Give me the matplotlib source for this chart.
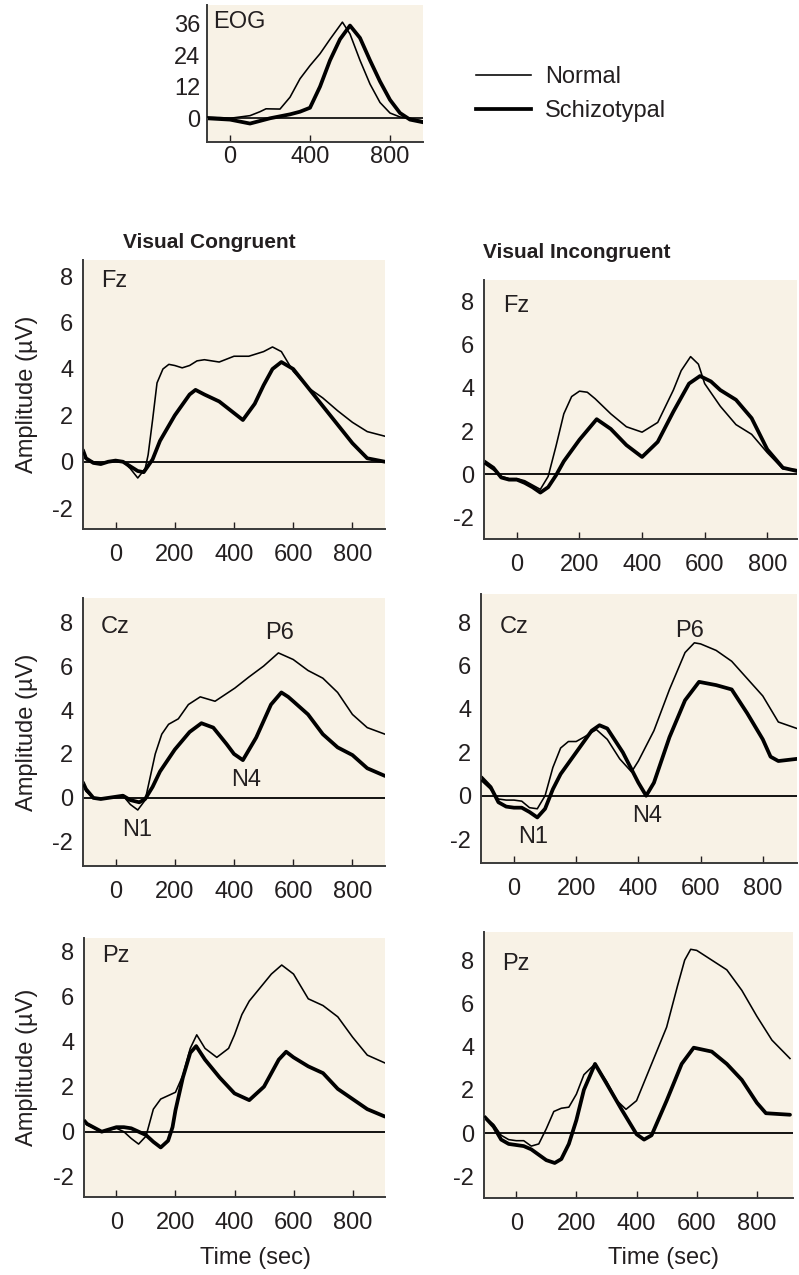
import matplotlib.pyplot as plt
from matplotlib.lines import Line2D

plt.rcParams['font.family'] = ['Liberation Sans', 'DejaVu Sans']
plt.rcParams['axes.unicode_minus'] = False

W, H = 799, 1275
BG = '#f8f2e6'
INK = '#231f20'
FS = 17

# ---- EOG (inset) ----
eog_t_norm = [-115, -50, 0, 50, 100, 150, 180, 250, 300, 350, 400, 450, 500, 562, 600, 650, 700, 750, 800, 850, 900, 965]
eog_v_norm = [0.5, 0.3, 0.0, 0.5, 1.0, 2.5, 3.6, 3.5, 8.0, 15.0, 20.0, 24.5, 30.0, 36.5, 32.0, 22.0, 13.0, 6.0, 2.0, 0.5, 0.0, -1.0]
eog_t_sch = [-115, 0, 100, 200, 300, 350, 400, 450, 500, 550, 600, 650, 700, 750, 800, 850, 900, 965]
eog_v_sch = [0.0, -0.5, -2.0, 0.0, 1.5, 2.5, 4.0, 12.0, 22.0, 30.0, 35.2, 30.5, 22.0, 14.0, 7.0, 2.0, -0.5, -1.5]

# ---- Fz, congruent ----
fz_con_t_norm = [-110, -100, -75, -50, -25, 0, 25, 50, 75, 100, 110, 125, 140, 160, 180, 200, 225, 250, 275, 300,
                 350, 400, 450, 500, 530, 560, 600, 650, 700, 750, 800, 850, 910]
fz_con_v_norm = [0.4, 0.1, 0.0, -0.05, 0.0, 0.05, 0.0, -0.3, -0.7, -0.3, 0.3, 1.8, 3.4, 4.0, 4.2, 4.15, 4.05, 4.15, 4.35, 4.4,
                 4.3, 4.55, 4.55, 4.75, 4.95, 4.75, 3.9, 3.2, 2.75, 2.2, 1.7, 1.3, 1.1]
fz_con_t_sch = [-110, -100, -75, -50, -25, 0, 25, 50, 75, 95, 125, 150, 200, 250, 270, 300, 350, 400, 430, 470,
                500, 530, 560, 600, 650, 700, 750, 800, 850, 910]
fz_con_v_sch = [0.5, 0.15, -0.05, -0.1, 0.0, 0.05, 0.0, -0.2, -0.4, -0.45, 0.1, 0.9, 2.0, 2.9, 3.1, 2.9, 2.6, 2.1, 1.8, 2.5,
                3.3, 4.0, 4.3, 4.0, 3.2, 2.4, 1.6, 0.8, 0.15, 0.0]

# ---- Fz, incongruent ----
fz_inc_t_norm = [-105, -75, -50, -25, 0, 25, 50, 75, 100, 125, 150, 175, 200, 225, 250, 300, 350, 400, 450, 500,
                 525, 555, 580, 600, 650, 700, 750, 800, 850, 910]
fz_inc_v_norm = [0.5, 0.2, -0.1, -0.2, -0.2, -0.3, -0.5, -0.7, -0.1, 1.3, 2.8, 3.6, 3.85, 3.8, 3.5, 2.8, 2.2, 1.95, 2.4, 3.9,
                 4.8, 5.45, 5.1, 4.2, 3.15, 2.3, 1.85, 1.0, 0.25, 0.2]
fz_inc_t_sch = [-105, -75, -50, -25, 0, 25, 50, 75, 100, 125, 150, 200, 255, 300, 350, 400, 450, 500, 550, 585,
                620, 650, 700, 750, 800, 850, 910]
fz_inc_v_sch = [0.6, 0.3, -0.15, -0.25, -0.25, -0.4, -0.6, -0.85, -0.6, -0.05, 0.6, 1.6, 2.55, 2.1, 1.35, 0.8, 1.5, 2.9, 4.2, 4.55,
                4.3, 3.9, 3.45, 2.6, 1.15, 0.3, 0.1]

# ---- Cz, congruent ----
cz_con_t_norm = [-110, -100, -75, -50, -25, 0, 25, 50, 75, 100, 134, 156, 179, 212, 246, 286, 336, 403, 450, 500,
                 550, 600, 650, 700, 750, 800, 850, 910]
cz_con_v_norm = [0.6, 0.3, 0.0, -0.05, 0.0, 0.05, 0.1, -0.3, -0.55, -0.1, 2.0, 2.9, 3.35, 3.6, 4.25, 4.6, 4.4, 5.0, 5.5, 6.0,
                 6.6, 6.3, 5.8, 5.45, 4.8, 3.8, 3.2, 2.9]
cz_con_t_sch = [-110, -100, -75, -50, -25, 0, 25, 50, 80, 100, 125, 150, 200, 250, 290, 330, 375, 400, 430, 475,
                500, 525, 560, 583, 600, 650, 700, 750, 800, 850, 910]
cz_con_v_sch = [0.7, 0.4, 0.0, -0.05, 0.0, 0.05, 0.1, -0.1, -0.2, -0.05, 0.5, 1.2, 2.2, 3.0, 3.4, 3.2, 2.45, 2.0, 1.72, 2.75,
                3.5, 4.25, 4.8, 4.6, 4.4, 3.8, 2.9, 2.3, 1.95, 1.35, 1.0]

# ---- Cz, incongruent ----
cz_inc_t_norm = [-105, -75, -50, -25, 0, 25, 50, 75, 100, 125, 150, 175, 200, 225, 265, 300, 340, 378, 400, 450,
                 500, 550, 580, 600, 650, 700, 750, 800, 850, 910]
cz_inc_v_norm = [0.7, 0.3, -0.15, -0.2, -0.2, -0.25, -0.55, -0.6, 0.0, 1.3, 2.2, 2.5, 2.5, 2.7, 3.05, 2.6, 1.7, 1.1, 1.6, 3.0,
                 4.9, 6.6, 7.05, 7.0, 6.7, 6.2, 5.4, 4.6, 3.4, 3.1]
cz_inc_t_sch = [-105, -75, -50, -25, 0, 25, 50, 75, 100, 125, 150, 200, 250, 275, 300, 350, 400, 425, 450, 500,
                550, 595, 650, 700, 750, 800, 825, 850, 910]
cz_inc_v_sch = [0.85, 0.4, -0.3, -0.5, -0.55, -0.55, -0.75, -1.0, -0.6, 0.3, 1.0, 2.0, 3.0, 3.25, 3.1, 2.0, 0.6, 0.0, 0.6, 2.7,
                4.4, 5.25, 5.1, 4.9, 3.8, 2.6, 1.8, 1.6, 1.7]

# ---- Pz, congruent ----
pz_con_t_norm = [-110, -100, -50, 0, 25, 50, 75, 100, 125, 150, 175, 200, 225, 250, 272, 300, 340, 380, 400, 425,
                 450, 500, 525, 560, 600, 650, 700, 750, 800, 850, 910]
pz_con_v_norm = [0.5, 0.3, 0.0, 0.15, 0.0, -0.3, -0.55, -0.2, 1.0, 1.45, 1.6, 1.75, 2.5, 3.7, 4.3, 3.7, 3.3, 3.7, 4.3, 5.2,
                 5.8, 6.6, 7.0, 7.4, 7.0, 5.9, 5.6, 5.1, 4.2, 3.4, 3.05]
pz_con_t_sch = [-110, -100, -50, 0, 25, 50, 100, 125, 150, 175, 190, 200, 225, 250, 270, 300, 350, 400, 450, 500,
                550, 575, 600, 650, 700, 750, 800, 850, 910]
pz_con_v_sch = [0.5, 0.35, 0.0, 0.2, 0.2, 0.15, -0.15, -0.45, -0.7, -0.4, 0.2, 0.95, 2.4, 3.5, 3.8, 3.2, 2.4, 1.7, 1.4, 2.0,
                3.2, 3.55, 3.3, 2.9, 2.6, 1.9, 1.45, 1.0, 0.67]

# ---- Pz, incongruent ----
pz_inc_t_norm = [-105, -75, -50, -25, 0, 25, 50, 75, 100, 125, 150, 175, 200, 225, 262, 300, 335, 365, 400, 450,
                 500, 536, 560, 580, 600, 650, 700, 750, 800, 850, 910]
pz_inc_v_norm = [0.75, 0.4, -0.1, -0.3, -0.35, -0.35, -0.6, -0.5, 0.2, 1.0, 1.15, 1.2, 1.8, 2.7, 3.2, 2.4, 1.5, 1.1, 1.5, 3.2,
                 4.9, 6.8, 8.0, 8.5, 8.45, 8.0, 7.55, 6.6, 5.4, 4.3, 3.45]
pz_inc_t_sch = [-105, -75, -50, -25, 0, 25, 50, 75, 100, 128, 150, 175, 200, 225, 262, 300, 350, 400, 425, 450,
                500, 550, 590, 650, 700, 750, 800, 830, 910]
pz_inc_v_sch = [0.75, 0.3, -0.3, -0.5, -0.55, -0.6, -0.75, -1.0, -1.25, -1.38, -1.2, -0.5, 0.6, 2.0, 3.2, 2.3, 1.1, -0.05, -0.3, -0.1,
                1.5, 3.2, 3.95, 3.77, 3.2, 2.46, 1.4, 0.92, 0.85]

xticks_erp = [0, 200, 400, 600, 800]
yticks_erp = [-2, 0, 2, 4, 6, 8]

fig = plt.figure(figsize=(W / 100, H / 100), dpi=100)


def px_axes(left, top, right, bottom):
    return fig.add_axes([left / W, 1 - bottom / H, (right - left) / W, (bottom - top) / H])


def style(ax, xpad=11, ypad=7):
    ax.set_facecolor(BG)
    for s in ['top', 'right']:
        ax.spines[s].set_visible(False)
    for s in ['left', 'bottom']:
        ax.spines[s].set_color('#3a3a3a')
        ax.spines[s].set_linewidth(1.4)
    ax.tick_params(axis='x', direction='in', length=5, width=1, pad=xpad, labelsize=FS, colors=INK)
    ax.tick_params(axis='y', length=0, pad=ypad, labelsize=FS, colors=INK)


THIN, THICK = 1.15, 2.7

# (box in px, xlim, ylim, electrode, series, peak labels)
panels = [
    ((83, 260, 385, 529), (-110, 910), (-2.9, 8.7), 'Fz',
     (fz_con_t_norm, fz_con_v_norm, fz_con_t_sch, fz_con_v_sch), []),
    ((484, 280, 797, 539), (-105, 895), (-3.0, 9.0), 'Fz',
     (fz_inc_t_norm, fz_inc_v_norm, fz_inc_t_sch, fz_inc_v_sch), []),
    ((83, 598, 385, 866), (-110, 910), (-3.1, 9.1), 'Cz',
     (cz_con_t_norm, cz_con_v_norm, cz_con_t_sch, cz_con_v_sch),
     [('P6', 554, 7.5), ('N4', 440, 0.8), ('N1', 74, -1.45)]),
    ((481, 594, 797, 863), (-106, 910), (-3.1, 9.3), 'Cz',
     (cz_inc_t_norm, cz_inc_v_norm, cz_inc_t_sch, cz_inc_v_sch),
     [('P6', 564, 7.6), ('N4', 429, -0.95), ('N1', 61, -1.9)]),
    ((84, 938, 385, 1197), (-110, 910), (-2.9, 8.6), 'Pz',
     (pz_con_t_norm, pz_con_v_norm, pz_con_t_sch, pz_con_v_sch), []),
    ((484, 932, 793, 1198), (-107, 920), (-3.0, 9.3), 'Pz',
     (pz_inc_t_norm, pz_inc_v_norm, pz_inc_t_sch, pz_inc_v_sch), []),
]

for box, xlim, ylim, name, (tn, vn, ts, vs), peaks in panels:
    ax = px_axes(*box)
    style(ax)
    ax.axhline(0, color='black', lw=1.3, zorder=1)
    ax.plot(tn, vn, color='black', lw=THIN, zorder=3)
    ax.plot(ts, vs, color='black', lw=THICK, zorder=2, solid_capstyle='round')
    ax.set_xlim(*xlim)
    ax.set_ylim(*ylim)
    ax.set_xticks(xticks_erp)
    ax.set_yticks(yticks_erp)
    ax.text(xlim[0] + 60, 7.8, name, fontsize=FS, color=INK, va='center', ha='left')
    for lab, px_, py_ in peaks:
        ax.text(px_, py_, lab, fontsize=FS, color=INK, ha='center', va='center')

# EOG inset
ax = px_axes(207, 5, 423, 142)
style(ax, xpad=3, ypad=5)
ax.axhline(0, color='black', lw=1.2, zorder=1)
ax.plot(eog_t_norm, eog_v_norm, color='black', lw=THIN, zorder=3)
ax.plot(eog_t_sch, eog_v_sch, color='black', lw=THICK, zorder=2)
ax.set_xlim(-115, 965)
ax.set_ylim(-9, 43)
ax.set_xticks([0, 400, 800])
ax.set_yticks([0, 12, 24, 36])
ax.text(-85, 36.5, 'EOG', fontsize=FS, color=INK, va='center', ha='left')

handles = [Line2D([], [], color='black', lw=THIN), Line2D([], [], color='black', lw=THICK)]
fig.legend(handles, ['Normal', 'Schizotypal'], loc='upper left',
           bbox_to_anchor=(455 / W, 1 - 45 / H), frameon=False, fontsize=FS,
           handlelength=2.3, handletextpad=0.6, labelspacing=0.5, labelcolor=INK)

# titles and shared labels
fig.text(209 / W, 1 - 242 / H, 'Visual Congruent', fontsize=15, fontweight='bold',
         color=INK, ha='center', va='center')
fig.text(577 / W, 1 - 252 / H, 'Visual Incongruent', fontsize=15, fontweight='bold',
         color=INK, ha='center', va='center')
for yc in [394, 732, 1067]:
    fig.text(27 / W, 1 - yc / H, 'Amplitude (µV)', fontsize=FS, color=INK,
             rotation=90, ha='center', va='center')
fig.text(255 / W, 1 - 1258 / H, 'Time (sec)', fontsize=FS, color=INK, ha='center', va='center')
fig.text(663 / W, 1 - 1258 / H, 'Time (sec)', fontsize=FS, color=INK, ha='center', va='center')

fig.savefig('out.png', dpi=100, facecolor='white')
